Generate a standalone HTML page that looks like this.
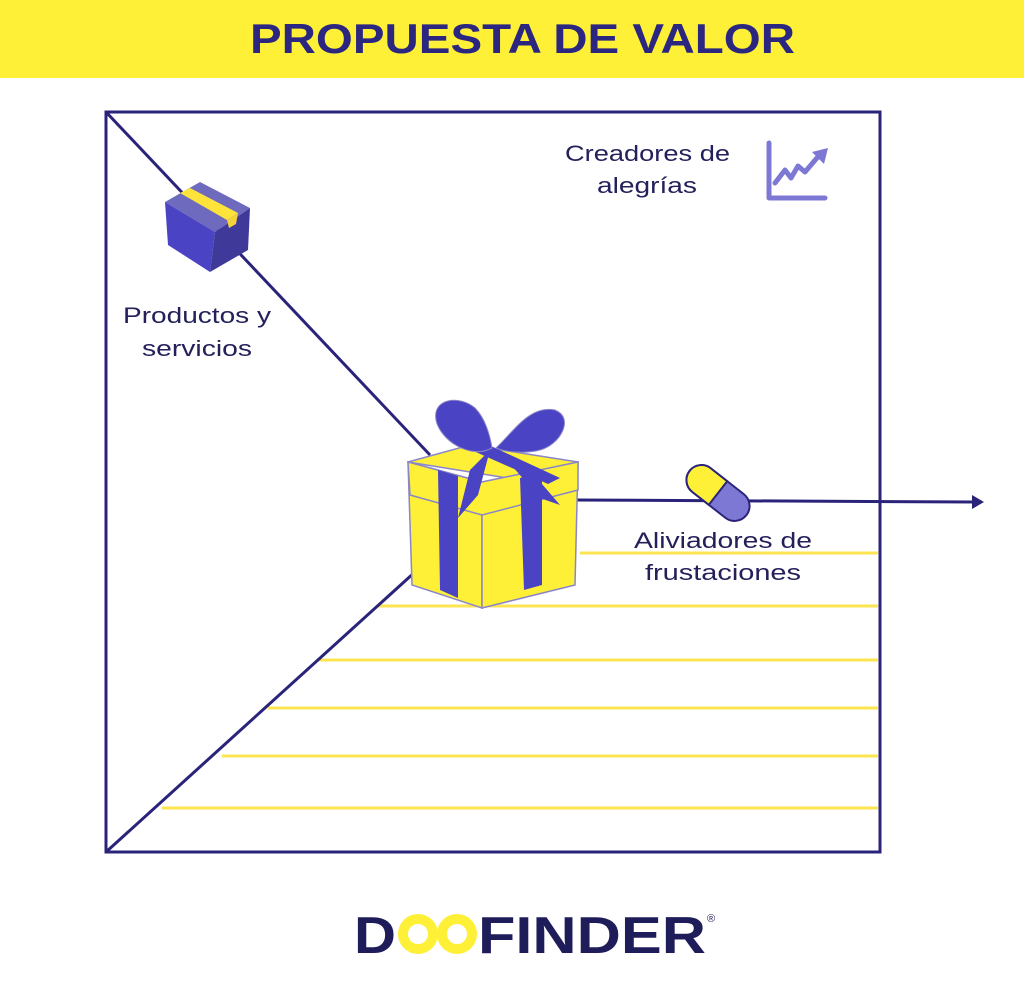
<!DOCTYPE html>
<html><head><meta charset="utf-8"><style>
html,body{margin:0;padding:0;background:#fff;}
svg{display:block}
</style></head><body>
<svg width="1024" height="988" viewBox="0 0 1024 988" xmlns="http://www.w3.org/2000/svg">
<rect x="0" y="0" width="1024" height="78" fill="#FEF036"/>
<text x="250" y="53" textLength="545" lengthAdjust="spacingAndGlyphs" font-family="Liberation Sans, sans-serif" font-weight="900" font-size="42" fill="#2B2680">PROPUESTA DE VALOR</text>
<g stroke="#FCE550" stroke-width="3">
<line x1="580" y1="553" x2="878" y2="553"/>
<line x1="378" y1="606" x2="878" y2="606"/>
<line x1="318" y1="660" x2="878" y2="660"/>
<line x1="268" y1="708" x2="878" y2="708"/>
<line x1="222" y1="756" x2="878" y2="756"/>
<line x1="162" y1="808" x2="878" y2="808"/>
</g>
<rect x="106" y="112" width="774" height="740" fill="none" stroke="#2A237A" stroke-width="3"/>
<g stroke="#2A237A" stroke-width="3">
<line x1="106" y1="112" x2="430" y2="455"/>
<line x1="106" y1="852" x2="415" y2="572"/>
<line x1="575" y1="500" x2="975" y2="502"/>
</g>
<polygon points="984,502 972,495 972,509" fill="#2A237A"/>
<!-- box icon -->
<polygon points="165,202 200,182 250,208 215,232" fill="#6E6BBF"/>
<polygon points="165,202 215,232 210,272 168,245" fill="#4A44C4"/>
<polygon points="215,232 250,208 248,250 210,272" fill="#3F3A9A"/>
<polygon points="180,193 190,188 238,213 227,220" fill="#FEE43A"/>
<polygon points="227,220 238,213 236,224 229,228" fill="#F3D23A"/>
<!-- chart icon -->
<g stroke="#7C78D4" stroke-width="5" fill="none" stroke-linecap="round" stroke-linejoin="round">
<polyline points="769,143 769,198 825,198"/>
<polyline points="775,183 785,170 791,178 798,166 805,172 822,152"/>
</g>
<polygon points="828,148 812,152 824,164" fill="#7C78D4"/>
<!-- texts -->
<g font-family="Liberation Sans, sans-serif" font-size="22" fill="#23205A">
<text x="565" y="161" textLength="165" lengthAdjust="spacingAndGlyphs">Creadores de</text>
<text x="597" y="193" textLength="100" lengthAdjust="spacingAndGlyphs">alegrías</text>
<text x="123" y="323" textLength="148" lengthAdjust="spacingAndGlyphs">Productos y</text>
<text x="142" y="356" textLength="110" lengthAdjust="spacingAndGlyphs">servicios</text>
<text x="634" y="548" textLength="178" lengthAdjust="spacingAndGlyphs">Aliviadores de</text>
<text x="645" y="580" textLength="156" lengthAdjust="spacingAndGlyphs">frustaciones</text>
</g>
<!-- pill -->
<g transform="rotate(38 718 493)">
<rect x="682" y="478" width="72" height="30" rx="15" fill="#7C78D4" stroke="#2A237A" stroke-width="2"/>
<path d="M697 478 H718 V508 H697 A15 15 0 0 1 697 478 Z" fill="#FEF036" stroke="#2A237A" stroke-width="2"/>
</g>
<!-- gift -->
<polygon points="408,462 470,445 578,462 520,480" fill="#FEF036" stroke="#8A86C8" stroke-width="1.5"/>
<polygon points="408,462 482,482 482,608 412,585" fill="#FEF036" stroke="#8A86C8" stroke-width="1.5"/>
<polygon points="482,482 578,462 575,585 482,608" fill="#FEF036" stroke="#8A86C8" stroke-width="1.5"/>
<polygon points="408,462 482,482 578,462 578,490 482,515 410,495" fill="#FEF036" stroke="#8A86C8" stroke-width="1.5"/>
<polygon points="438,470 458,476 458,598 440,590" fill="#4A44C4"/>
<polygon points="520,478 542,472 542,585 524,590" fill="#4A44C4"/>
<polygon points="460,445 478,440 560,478 548,484" fill="#4A44C4"/>
<path d="M492 448 C470 460 440 440 436 420 C432 398 460 395 475 408 C485 418 490 435 492 448 Z" fill="#4A44C4" stroke="#8A86C8" stroke-width="1"/>
<path d="M496 448 C515 430 530 405 555 410 C575 418 560 445 540 450 C525 454 505 452 496 448 Z" fill="#4A44C4" stroke="#8A86C8" stroke-width="1"/>
<path d="M490 450 L470 470 L458 518 L478 495 Z" fill="#4A44C4"/>
<path d="M498 450 L530 470 L560 505 L540 498 Z" fill="#4A44C4"/>
<!-- logo -->
<g font-family="Liberation Sans, sans-serif" font-weight="900" font-size="52" fill="#1F1C5A">
<text x="354" y="953" textLength="42" lengthAdjust="spacingAndGlyphs">D</text>
<text x="478" y="953" textLength="228" lengthAdjust="spacingAndGlyphs">FINDER</text>
</g>
<circle cx="418" cy="934" r="15" fill="none" stroke="#FEF036" stroke-width="10"/>
<circle cx="457" cy="934" r="15" fill="none" stroke="#FEF036" stroke-width="10"/>
<text x="707" y="922" font-family="Liberation Sans, sans-serif" font-size="11" fill="#1F1C5A">®</text>
</svg>
</body></html>
